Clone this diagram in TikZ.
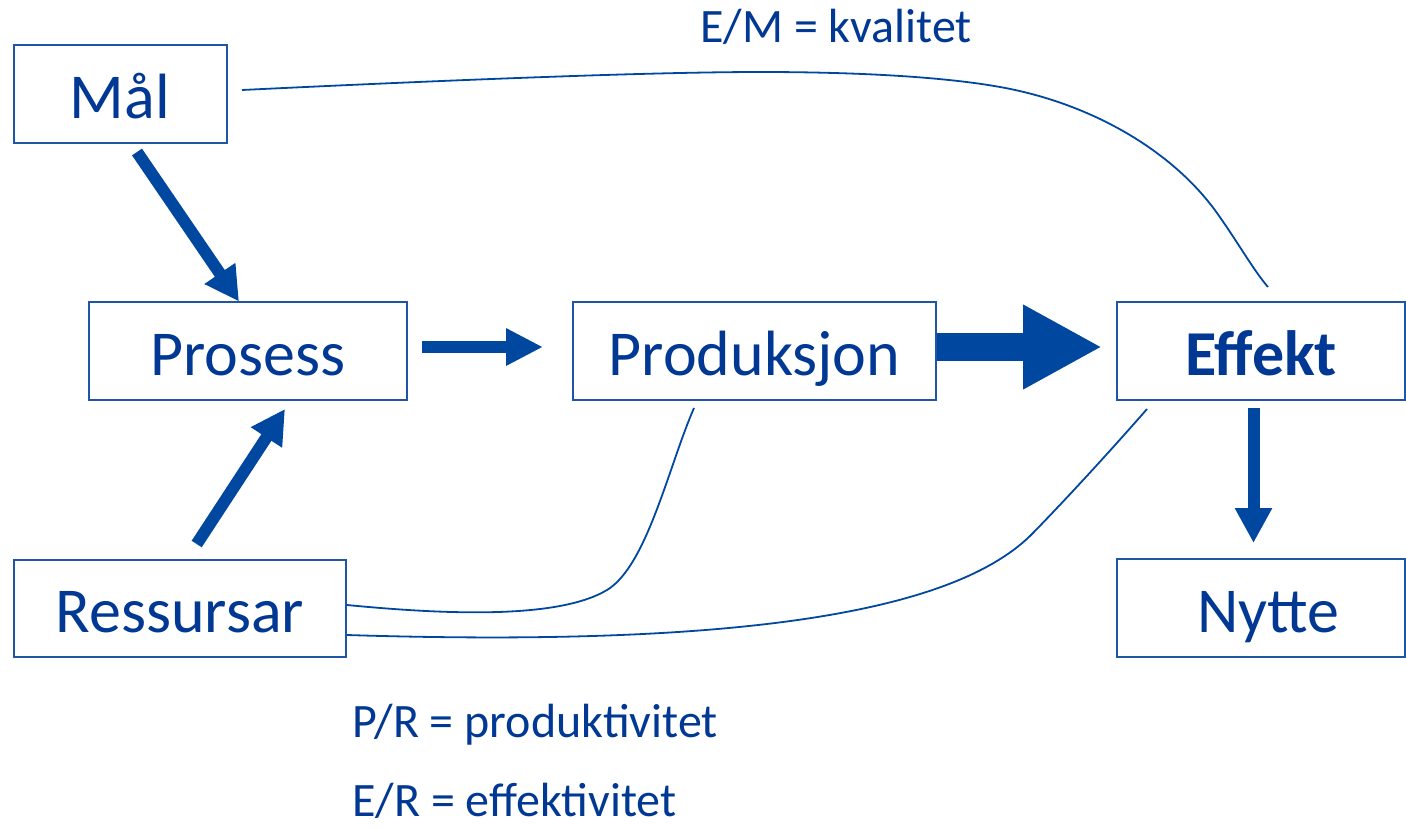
\documentclass[tikz,border=0pt]{standalone}
\usepackage{fontspec}
\setmainfont{Carlito}
\usetikzlibrary{arrows.meta}
\definecolor{txtblue}{RGB}{0,56,147}
\definecolor{arrblue}{RGB}{0,71,160}
\definecolor{boxblue}{RGB}{30,85,165}
\begin{document}
\begin{tikzpicture}[x=1pt,y=-1pt,
  box/.style={draw=boxblue, line width=2pt, inner sep=0pt, text=txtblue,
    font=\fontsize{64}{70}\selectfont, text height=48pt, text depth=0pt,
    minimum height=98pt},
  fatarrow/.style={draw=arrblue, line width=#1},
  curve/.style={draw=arrblue, line width=1.8pt},
  lbl/.style={text=txtblue, inner sep=0pt, anchor=base west,
    font=\fontsize{48}{52}\selectfont}]
\useasboundingbox (0,0) rectangle (1406,828);

% boxes
\node[box, minimum width=213pt] (mal) at (120,94) {Mål};
\node[box, minimum width=318pt] (pro) at (248,351) {Prosess};
\node[box, minimum width=363pt] (prd) at (754.5,351) {Produksjon};
\node[box, minimum width=288pt] (eff) at (1261,351) {\bfseries Effekt};
\node[box, minimum width=332pt, minimum height=97pt] (res) at (180,608.5) {Ressursar};
\node[box, minimum width=288pt] (nyt) at (1261,608) {\hspace*{15pt}Nytte};

% labels
\node[lbl] (em) at (700,42) {E/M = kvalitet};
\node[lbl] (pr) at (352,737) {P/R = produktivitet};
\node[lbl] (er) at (352,816) {E/R = effektivitet};

% arrow end points
\coordinate (a1s) at (137,152);
\coordinate (a1e) at (239,301.5);
\coordinate (a2s) at (196.7,544);
\coordinate (a2e) at (285,409);
\coordinate (a3s) at (422,347);
\coordinate (a3e) at (543,347);
\coordinate (a4s) at (937,347);
\coordinate (a4e) at (1102,347);
\coordinate (a5s) at (1253.5,408);
\coordinate (a5e) at (1253.5,543);

\draw[fatarrow=12pt, -{Triangle[length=34pt,width=35pt]}] (a1s) -- (a1e);
\draw[fatarrow=12pt, -{Triangle[length=34pt,width=35pt]}] (a2s) -- (a2e);
\draw[fatarrow=12pt, -{Triangle[length=37pt,width=35pt]}] (a3s) -- (a3e);
\draw[fatarrow=28pt, -{Triangle[length=79pt,width=79pt]}] (a4s) -- (a4e);
\draw[fatarrow=12pt, -{Triangle[length=35pt,width=35pt]}] (a5s) -- (a5e);

% thin curves
\coordinate (emA) at (242,90);
\coordinate (emB) at (760,72);
\coordinate (emC) at (1000,87);
\coordinate (emD) at (1217,213);
\coordinate (emE) at (1268,287);
\draw[curve] (emA) .. controls (450,80) and (650,72) .. (emB)
  .. controls (870,72) and (950,78) .. (emC)
  .. controls (1090,103) and (1172,150) .. (emD)
  .. controls (1239,244) and (1254,271) .. (emE);

\coordinate (prA) at (347,605);
\coordinate (prB) at (607,590);
\coordinate (prC) at (694,408);
\draw[curve] (prA) .. controls (440,614) and (557,620) .. (prB)
  .. controls (647,566) and (669,465) .. (prC);

\coordinate (erA) at (347,635);
\coordinate (erB) at (1033,533);
\coordinate (erC) at (1147,409);
\draw[curve] (erA) .. controls (760,648) and (960,608) .. (erB)
  .. controls (1073,492) and (1120,440) .. (erC);
\end{tikzpicture}
\end{document}
